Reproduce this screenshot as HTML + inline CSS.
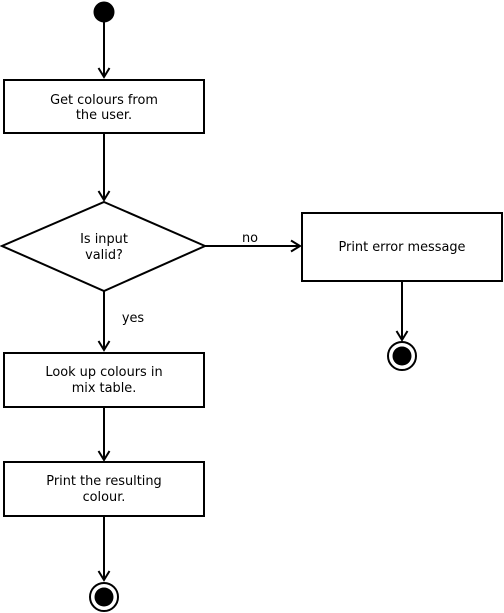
<!DOCTYPE html>
<html><head><style>html,body{margin:0;padding:0;background:#fff}svg{display:block}text{font-family:"DejaVu Sans","Liberation Sans",sans-serif;font-size:12.9px}</style></head>
<body>
<svg width="504" height="613" viewBox="0 0 504 613" xmlns="http://www.w3.org/2000/svg" fill="#000">
<g stroke="#000" stroke-width="2" fill="none">
<circle cx="104" cy="12" r="9.5" fill="#000"/>
<line x1="104" y1="20" x2="104" y2="77"/>
<polyline points="98.5,68 104,77 109.5,68"/>
<rect x="4" y="80" width="200" height="53" fill="#fff"/>
<line x1="104" y1="133" x2="104" y2="200"/>
<polyline points="98.5,191 104,200 109.5,191"/>
<polygon points="104,202 205,246 104,291 2,246" fill="#fff"/>
<line x1="205" y1="246" x2="300" y2="246"/>
<polyline points="291,240.5 300,246 291,251.5"/>
<rect x="302" y="213" width="200" height="68" fill="#fff"/>
<line x1="402" y1="281" x2="402" y2="340"/>
<polyline points="396.5,331 402,340 407.5,331"/>
<circle cx="402" cy="356" r="14" fill="#fff"/>
<line x1="104" y1="291" x2="104" y2="350"/>
<polyline points="98.5,341 104,350 109.5,341"/>
<rect x="4" y="353" width="200" height="54" fill="#fff"/>
<line x1="104" y1="407" x2="104" y2="460"/>
<polyline points="98.5,451 104,460 109.5,451"/>
<rect x="4" y="462" width="200" height="54" fill="#fff"/>
<line x1="104" y1="516" x2="104" y2="580"/>
<polyline points="98.5,571 104,580 109.5,571"/>
<circle cx="104" cy="597" r="14" fill="#fff"/>
</g>
<circle cx="402" cy="356" r="9.5"/>
<circle cx="104" cy="597" r="9.5"/>
<g text-anchor="middle">
<text x="104" y="104">Get colours from</text>
<text x="104" y="119">the user.</text>
<text x="104" y="243">Is input</text>
<text x="104" y="259">valid?</text>
<text x="402" y="251">Print error message</text>
<text x="104" y="376">Look up colours in</text>
<text x="104" y="392">mix table.</text>
<text x="104" y="485">Print the resulting</text>
<text x="104" y="501">colour.</text>
<text x="250" y="242">no</text>
<text x="133" y="322">yes</text>
</g>
</svg>
</body></html>
